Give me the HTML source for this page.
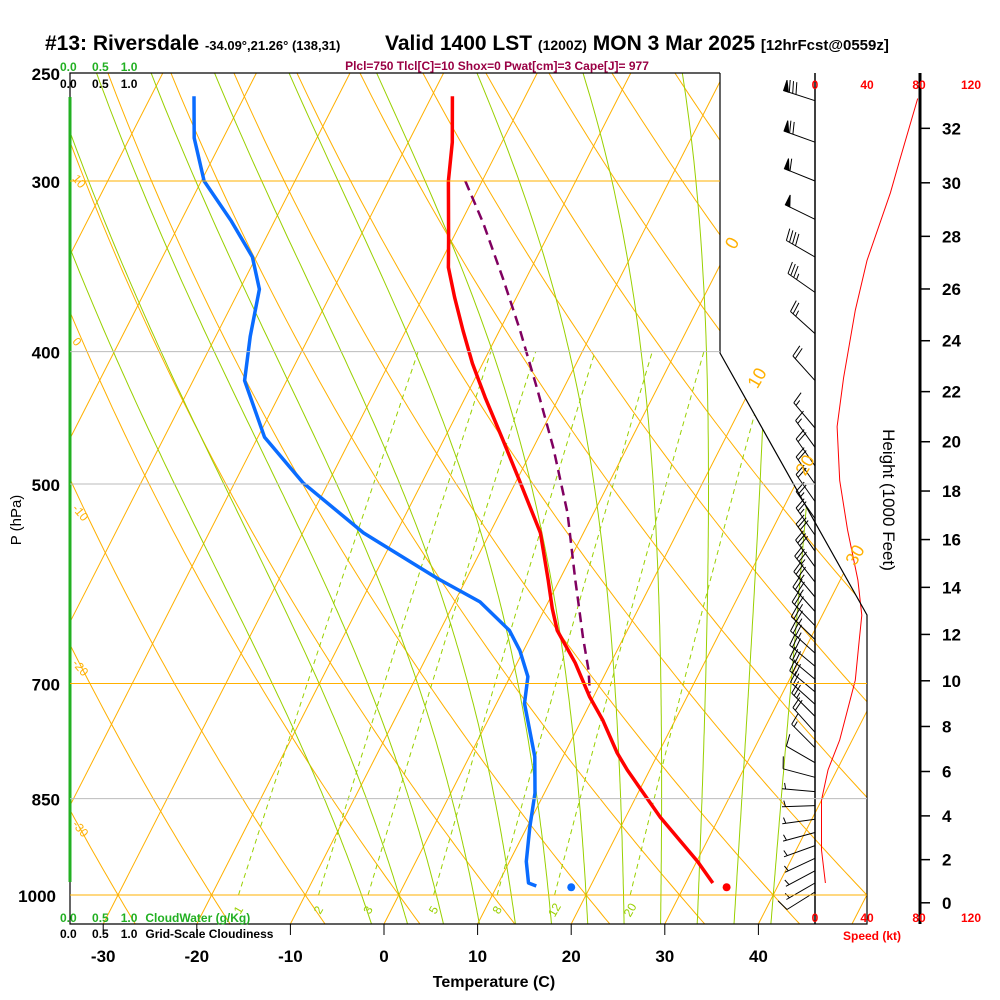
<!DOCTYPE html>
<html><head><meta charset="utf-8">
<style>
html,body{margin:0;padding:0;background:#fff;}
svg{display:block;font-family:"Liberation Sans",sans-serif;}
</style></head>
<body>
<svg id="chart" width="1000" height="1000" viewBox="0 0 1000 1000" xmlns="http://www.w3.org/2000/svg">
<defs>
<clipPath id="frameClip"><polygon points="70,73 720,73 720,353 867,615 867,924 70,924"/></clipPath>
</defs>
<g id="bg" clip-path="url(#frameClip)"></g>
<g id="mixlabels"></g>
<g id="profiles"></g>
<g id="frame">
  <polyline points="720,73 70,73 70,924 867,924 867,615 720,353 720,73" fill="none" stroke="#000" stroke-width="1.2"/>
  <line x1="70" y1="97" x2="70" y2="882" stroke="#22b022" stroke-width="3"/>
  <line x1="815" y1="73" x2="815" y2="924" stroke="#000" stroke-width="1.5"/>
  <line x1="920" y1="73" x2="920" y2="924" stroke="#000" stroke-width="3"/>
</g>
<g id="winds"></g>
<g id="axes"></g>
<g id="titles">
  <text x="45" y="50" font-size="21" font-weight="bold">#13: Riversdale <tspan font-size="13">-34.09°,21.26° (138,31)</tspan></text>
  <text x="385" y="50" font-size="21" font-weight="bold">Valid 1400 LST <tspan font-size="14">(1200Z)</tspan> MON 3 Mar 2025 <tspan font-size="15">[12hrFcst@0559z]</tspan></text>
  <text x="497" y="70" font-size="12" fill="#990044" font-weight="bold" text-anchor="middle">Plcl=750 Tlcl[C]=10 Shox=0 Pwat[cm]=3 Cape[J]= 977</text>
  <text x="60" y="71" font-size="12" fill="#22b022" font-weight="bold">0.0 <tspan dx="12">0.5</tspan><tspan dx="12">1.0</tspan></text>
  <text x="60" y="88" font-size="12" font-weight="bold">0.0 <tspan dx="12">0.5</tspan><tspan dx="12">1.0</tspan></text>
  <text x="60" y="922" font-size="12" fill="#22b022" font-weight="bold">0.0 <tspan dx="12">0.5</tspan><tspan dx="12">1.0</tspan><tspan dx="8">CloudWater (g/Kg)</tspan></text>
  <text x="60" y="938" font-size="12" font-weight="bold">0.0 <tspan dx="12">0.5</tspan><tspan dx="12">1.0</tspan><tspan dx="8">Grid-Scale Cloudiness</tspan></text>
  <text x="494" y="987" font-size="16" font-weight="bold" text-anchor="middle">Temperature (C)</text>
  <text transform="translate(21,520) rotate(-90)" font-size="15" text-anchor="middle">P (hPa)</text>
  <text transform="translate(883,500) rotate(90)" font-size="17" text-anchor="middle">Height (1000 Feet)</text>
  <text x="872" y="940" font-size="12" fill="#f00" font-weight="bold" text-anchor="middle">Speed (kt)</text>
</g>
</svg>
<script>
// ---- data ----
const pressureTicks = [250,300,400,500,700,850,1000];
const tempTicks = [-30,-20,-10,0,10,20,30,40];
const heightTicks = [0,2,4,6,8,10,12,14,16,18,20,22,24,26,28,30,32];
const speedTicks = [0,40,80,120];
const mixRatios = [1,2,3,5,8,12,20];
const tempP = [260,281,300,331,347,365,386,408,432,464,497,543,588,617,640,676,716,745,787,810,877,945,980];
const tempT = [-37.8,-35.3,-33.6,-30.4,-28.9,-26.6,-23.9,-21.1,-17.9,-13.7,-9.7,-4.6,-1.2,0.8,2.5,6.2,9.6,12.3,15.6,17.6,23.7,30.1,32.9];
const dewP = [260,279,300,321,341,360,390,420,462,499,543,586,610,640,662,692,724,792,842,892,945,980,985];
const dewT = [-65.4,-63.1,-59.7,-54.6,-50.4,-47.9,-46.3,-44.5,-39.3,-32.7,-23.5,-13.2,-7.3,-2.6,-0.4,1.9,3.0,7.0,9.0,10.3,11.8,13.2,14.2];
const parcelP = [300,322,354,386,425,470,525,588,601,647,684,711];
const parcelT = [-31.8,-27.6,-22.4,-17.8,-12.9,-7.9,-2.8,1.7,2.6,5.6,8.0,9.4];
const sfcP = [987];
const sfcT = [34.6];
const sfcTd = [18.0];
const speedP = [261,290,306,343,373,418,454,497,540,588,624,651,696,770,810,852,927,980];
const speedKt = [79,65,58,40,31,22,17,19,25,33,36,34,31,19,10,5,5,8];
const windP = [262,281,300,320,341,362,388,420,455,470,485,500,515,530,545,560,575,590,605,620,635,650,665,680,695,710,725,740,760,780,800,820,840,860,880,900,920,940,960,980,995];
const windSpd = [79,69,60,52,41,34,27,22,17,17,18,19,21,24,26,29,31,33,35,36,36,34,33,32,31,28,25,23,20,16,12,8,6,5,5,5,5,5,6,7,8];
const windDir = [288,290,292,296,300,305,312,318,320,324,325,325,325,325,325,325,324,322,320,318,316,314,312,310,310,310,312,315,318,315,300,285,275,268,262,255,250,245,242,240,238];

// ---- axis functions ----
const NS = 'http://www.w3.org/2000/svg';
function yOf(p){ return 895 - 593*Math.log(1000/p); }
function xOf(T,p){ return 384 + 9.36*T + 0.51*(924 - yOf(p)); }
function xAtY(T,y){ return 384 + 9.36*T + 0.51*(924 - y); }
function xOfS(s){ return 815 + 1.3*s; }
function yOfH(kft){ const p = 1013.25*Math.pow(1-6.8756e-6*kft*1000,5.2559); return yOf(p); }
function mk(tag, attrs, parent){
  const e = document.createElementNS(NS, tag);
  for (const k in attrs) e.setAttribute(k, attrs[k]);
  parent.appendChild(e); return e;
}
const bg = document.getElementById('bg');
const ORANGE = '#ffb000', GREEN = '#99d000';

// isotherms
for (let T=-150; T<=50; T+=10){
  const l = mk('line',{x1:xAtY(T,924),y1:924,x2:xAtY(T,73),y2:73,stroke:ORANGE,'stroke-width':1},bg);
  
  
}
// dry adiabats
for (let th=-60; th<=200; th+=10){
  let d='';
  for (let p=1050; p>=245; p-=10){
    const T = (th+273.15)*Math.pow(p/1000,0.2857)-273.15;
    d += (d?'L':'M') + xOf(T,p).toFixed(1)+','+yOf(p).toFixed(1);
  }
  const pa = mk('path',{d:d,fill:'none',stroke:ORANGE,'stroke-width':1},bg);
  
  
}
// moist adiabats
function esat(T){ return 6.112*Math.exp(17.67*T/(T+243.5)); }
function rsat(T,p){ const e=esat(T); return 0.622*e/(p-e); }
const lapse=(T,p)=>{ const r=rsat(T-273.15,p); const Rd=287,cp=1004,L=2.5e6,eps=0.622;
  return (Rd*T + L*r)/(p*(cp + L*L*r*eps/(Rd*T*T))); };
for (let tw=-4; tw<=40; tw+=4){
  let T = tw+273.15, pp=1000;
  while(pp<1050){ T += lapse(T,pp)*5; pp+=5; }
  let p=1050, d='';
  while(p>=245){
    d += (d?'L':'M') + xOf(T-273.15,p).toFixed(1)+','+yOf(p).toFixed(1);
    T -= lapse(T,p)*5; p -= 5;
  }
  const pa = mk('path',{d:d,fill:'none',stroke:GREEN,'stroke-width':1},bg);
  
  
}
// mixing ratio lines
function tdFromW(w,p){ const e=w*p/(622+w); const a=Math.log(e/6.112); return 243.5*a/(17.67-a); }
const ml = document.getElementById('mixlabels');
mixRatios.forEach(w=>{
  let d='';
  for (let p=1000; p>=400; p-=10){
    d += (d?'L':'M') + xOf(tdFromW(w,p),p).toFixed(1)+','+yOf(p).toFixed(1);
  }
  const pa = mk('path',{d:d,fill:'none',stroke:GREEN,'stroke-width':1,'stroke-dasharray':'5,4'},bg);
  
  
  const x = xOf(tdFromW(w,1000),1000);
  const t = mk('text',{x:x,y:914,'font-size':12,fill:GREEN,'text-anchor':'middle',transform:'rotate(-60 '+x+' 910)'},ml);
  t.textContent = w;
  
  
});
// pressure lines
const lineColors = {250:'#000',300:ORANGE,400:'#bbb',500:'#bbb',700:ORANGE,850:'#bbb',1000:ORANGE};
const axes = document.getElementById('axes');
pressureTicks.forEach(p=>{
  const y = yOf(p);
  if (p!==250){
    const xe = (p===500)?815:(p===300||p===400)?720:867;
    const l = mk('line',{x1:70,y1:y,x2:xe,y2:y,stroke:lineColors[p],'stroke-width':1},axes);
    
    
  }
  const t = mk('text',{x:p===1000?56:60,y:y+7,'font-size':17,'font-weight':'bold','text-anchor':'end'},axes);
  t.textContent = p;
  
  
});
// dry adiabat labels (left) and isotherm labels (right)
[[10,180],[0,343],[-10,510],[-20,665],[-30,826]].forEach(a=>{
  const t = mk('text',{x:73,y:a[1]+4,'font-size':12,fill:ORANGE,transform:'rotate(50 78 '+a[1]+')'},axes);
  t.textContent = a[0];
  
  
});
[[0,732,243],[10,757,378],[20,805,465],[30,855,555]].forEach(a=>{
  const t = mk('text',{x:a[1],y:a[2]+6,'font-size':18,fill:ORANGE,'text-anchor':'middle',transform:'rotate(-60 '+a[1]+' '+a[2]+')'},axes);
  t.textContent = a[0];
  
  
});
// temperature ticks
tempTicks.forEach(T=>{
  const x = xAtY(T,924);
  const l = mk('line',{x1:x,y1:924,x2:x,y2:935,stroke:'#000','stroke-width':1},axes);
  
  
  const t = mk('text',{x:x,y:962,'font-size':17,'font-weight':'bold','text-anchor':'middle'},axes);
  t.textContent = T;
  
  
});
// height ticks
heightTicks.forEach(h=>{
  const y = yOfH(h);
  const l = mk('line',{x1:920,y1:y,x2:930,y2:y,stroke:'#000','stroke-width':1.5},axes);
  
  
  const t = mk('text',{x:942,y:y+6,'font-size':17,'font-weight':'bold'},axes);
  t.textContent = h;
  
  
});
// speed ticks
speedTicks.forEach(s=>{
  const x = xOfS(s);
  [89,922].forEach(y=>{
    const t = mk('text',{x:x,y:y,'font-size':12,'font-weight':'bold',fill:'#f00','text-anchor':'middle'},axes);
    t.textContent = s;
    
    
  });
});
// profiles
const prof = document.getElementById('profiles');
function line(P,T,attrs,name){
  const pts = P.map((p,i)=>xOf(T[i],p).toFixed(1)+','+yOf(p).toFixed(1)).join(' ');
  const e = mk('polyline',Object.assign({points:pts,fill:'none'},attrs),prof);
  
  
}
line(parcelP,parcelT,{stroke:'#800060','stroke-width':2.5,'stroke-dasharray':'10,6'},'parcel-line');
line(dewP,dewT,{stroke:'#0a6cff','stroke-width':3.5,'stroke-linejoin':'round'},'dewpoint-line');
line(tempP,tempT,{stroke:'#ff0000','stroke-width':3.5,'stroke-linejoin':'round'},'temperature-line');
const d1 = mk('circle',{cx:xOf(sfcT[0],sfcP[0]),cy:yOf(sfcP[0]),r:4,fill:'#ff0000'},prof);


const d2 = mk('circle',{cx:xOf(sfcTd[0],sfcP[0]),cy:yOf(sfcP[0]),r:4,fill:'#0a6cff'},prof);


// speed profile
const sp = mk('polyline',{points:speedP.map((p,i)=>xOfS(speedKt[i]).toFixed(1)+','+yOf(p).toFixed(1)).join(' '),fill:'none',stroke:'#f00','stroke-width':1},prof);


// wind barbs
const wg = document.getElementById('winds');
windP.forEach((p,i)=>{
  const y = yOf(p), x0 = 815, L = 33;
  const a = windDir[i]*Math.PI/180;
  const ux = Math.sin(a), uy = -Math.cos(a);
  const ex = x0 + ux*L, ey = y + uy*L;
  let d = 'M'+x0+','+y.toFixed(1)+'L'+ex.toFixed(1)+','+ey.toFixed(1);
  const bx = -uy, by = ux;
  let s = Math.round(windSpd[i]/5)*5, pos = 0, flags='';
  while (s>=50){
    const px = ex - ux*pos, py = ey - uy*pos;
    flags += 'M'+px.toFixed(1)+','+py.toFixed(1)+'L'+(px+bx*11).toFixed(1)+','+(py+by*11).toFixed(1)+'L'+(px-ux*5).toFixed(1)+','+(py-uy*5).toFixed(1)+'Z';
    pos += 6; s -= 50;
  }
  while (s>=10){
    const px = ex - ux*pos, py = ey - uy*pos;
    d += 'M'+px.toFixed(1)+','+py.toFixed(1)+'L'+(px+bx*12+ux*3).toFixed(1)+','+(py+by*12+uy*3).toFixed(1);
    pos += 3.5; s -= 10;
  }
  if (s>=5){
    if (pos===0) pos = 3.5;
    const px = ex - ux*pos, py = ey - uy*pos;
    d += 'M'+px.toFixed(1)+','+py.toFixed(1)+'L'+(px+bx*6+ux*1.5).toFixed(1)+','+(py+by*6+uy*1.5).toFixed(1);
  }
  const b = mk('path',{d:d,fill:'none',stroke:'#000','stroke-width':1},wg);
  
  
  if (flags){
    const f = mk('path',{d:flags,fill:'#000',stroke:'#000','stroke-width':1},wg);
    
    
  }
});
</script>
</body></html>
